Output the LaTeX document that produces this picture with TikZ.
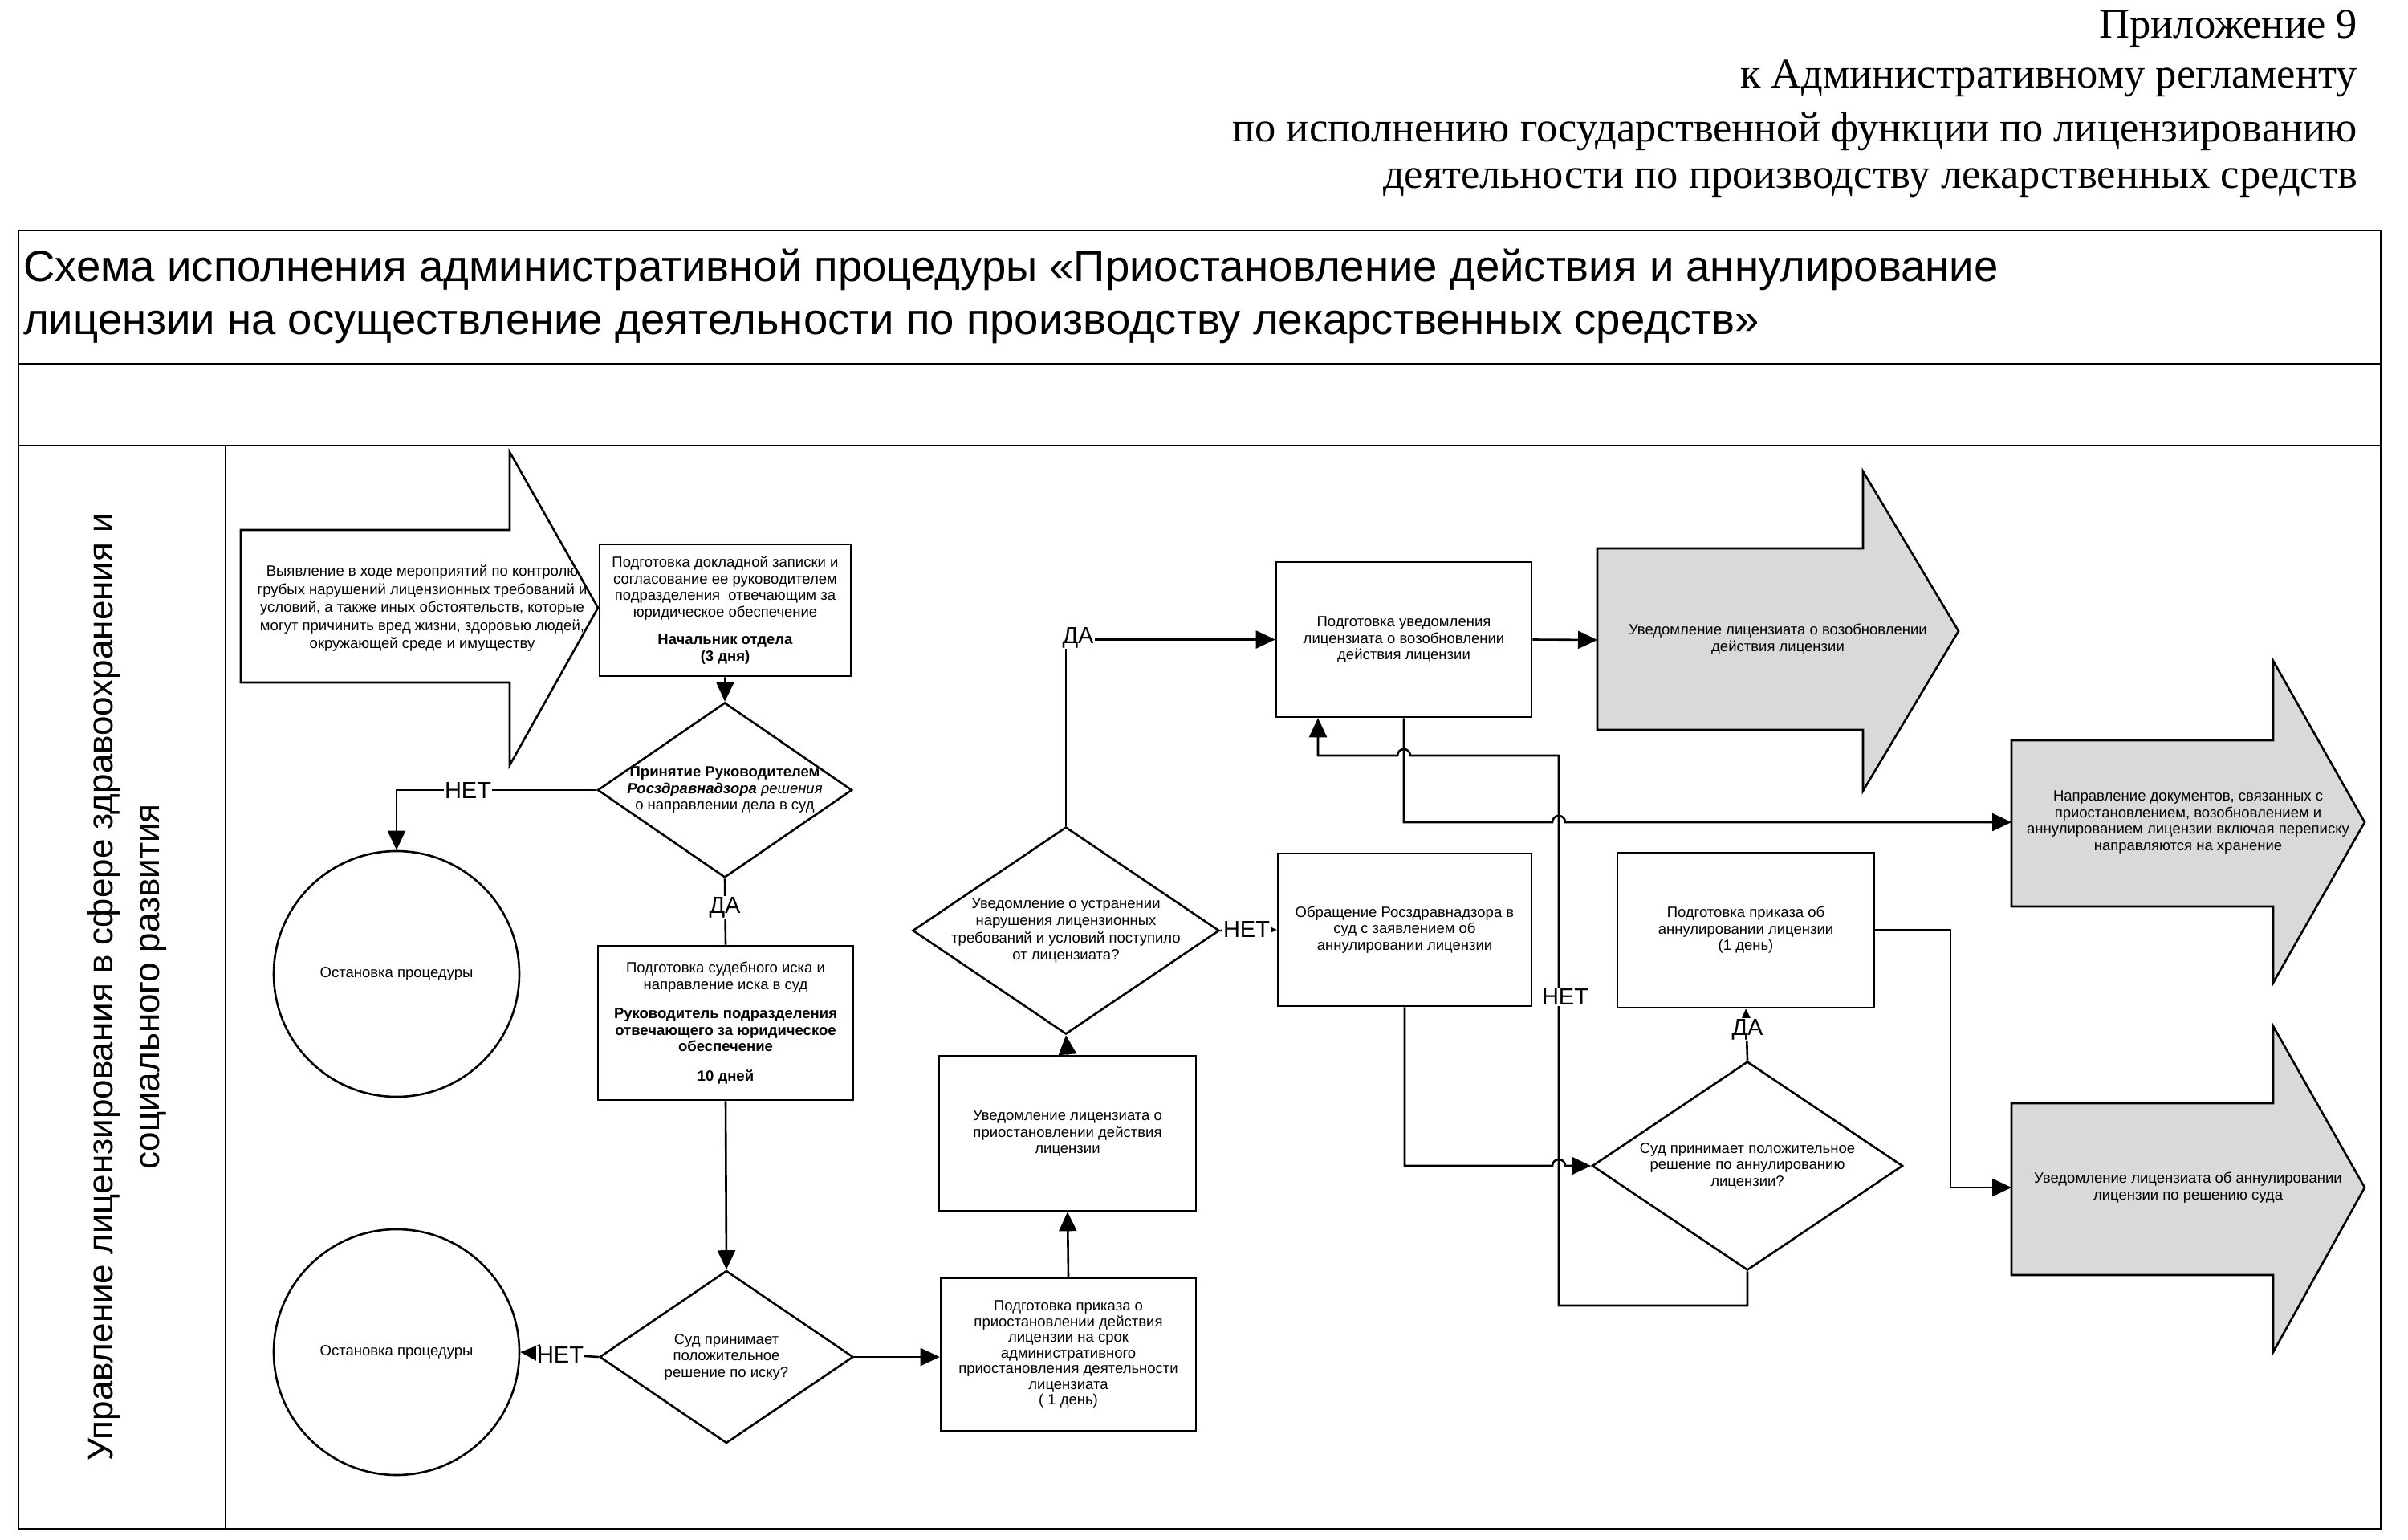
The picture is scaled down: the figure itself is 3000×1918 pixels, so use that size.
\documentclass[tikz,border=0pt]{standalone}
\usepackage{fontspec}
\setmainfont{Liberation Sans}
\newfontfamily\hdrfont{Liberation Serif}
\usetikzlibrary{arrows.meta,calc,shapes.geometric}
\begin{document}
\begin{tikzpicture}[x=1pt,y=-1pt,
  box/.style={draw, line width=2.6pt, rectangle, align=center, inner sep=3pt, font=\fontsize{18.5}{20.5}\selectfont},
  dia/.style={draw, line width=2.6pt, diamond, inner sep=0pt},
  dtext/.style={align=center, font=\fontsize{18.5}{20.5}\selectfont},
  circ/.style={draw, line width=2.6pt, circle, minimum size=306pt, inner sep=0pt, align=center, font=\fontsize{18.5}{20.5}\selectfont},
  conn/.style={line width=2.6pt, -{Triangle[length=24pt,width=22pt]}},
  plain/.style={line width=2.6pt},
  bigarrow/.style={draw, line width=2.6pt, line join=miter},
  shaded/.style={bigarrow, fill=black!15},
  lbl/.style={font=\fontsize{29}{32}\selectfont, fill=white, inner sep=1pt},
  hdr/.style={anchor=east, font=\hdrfont\fontsize{52.5}{58}\selectfont, inner sep=0pt},
  ttl/.style={anchor=west, font=\fontsize{54.5}{60}\selectfont, inner sep=0pt}
]
\useasboundingbox (0,0) rectangle (3000,1918);
\fill[white] (0,0) rectangle (3000,1918);

% header
\node[hdr] (h1) at (2937,36) {Приложение 9};
\node[hdr] (h2) at (2937,98) {к Административному регламенту};
\node[hdr] (h3) at (2937,164) {по исполнению государственной функции по лицензированию};
\node[hdr] (h4) at (2937,228) {деятельности по производству лекарственных средств};

% frame
\draw[line width=2.6pt] (23,287) rectangle (2966,1904);
\draw[line width=2.6pt] (23,453) -- (2966,453);
\draw[line width=2.6pt] (23,555) -- (2966,555);
\draw[line width=2.6pt] (281,555) -- (281,1904);
\node[ttl] (t1) at (29,336) {Схема исполнения административной процедуры «Приостановление действия и аннулирование};
\node[ttl] (t2) at (29,407) {лицензии на осуществление деятельности по производству лекарственных средств»};
\node[rotate=90, align=center, font=\fontsize{44}{58}\selectfont] (lane) at (158,1229)
  {Управление лицензирования в сфере здравоохранения и\\социального развития};

% start arrow
\draw[bigarrow] (300,660) -- (635,660) -- (635,563) -- (745,757) -- (635,953) -- (635,850) -- (300,850) -- cycle;
\node[dtext, font=\fontsize{18.5}{22.5}\selectfont] (a1) at (526,758)
  {Выявление в ходе мероприятий по контролю\\грубых нарушений лицензионных требований и\\условий, а также иных обстоятельств, которые\\могут причинить вред жизни, здоровью людей,\\окружающей среде и имуществу};

% boxes
\node[box, minimum width=313pt, minimum height=164pt] (A) at (903.5,760)
  {Подготовка докладной записки и\\согласование ее руководителем\\подразделения \ отвечающим за\\юридическое обеспечение\\[14pt]\textbf{Начальник отдела}\\\textbf{(3 дня)}};
\node[dia, minimum width=317pt, minimum height=218pt] (d1) at (903,984) {};
\node[dtext] (d1t) at (903,984) {\textbf{Принятие Руководителем}\\\textbf{\textit{Росздравнадзора}} \textit{решения}\\о направлении дела в суд};
\node[box, minimum width=318pt, minimum height=192pt] (B) at (904,1274)
  {Подготовка судебного иска и\\направление иска в суд\\[16pt]\textbf{Руководитель подразделения}\\\textbf{отвечающего за юридическое}\\\textbf{обеспечение}\\[16pt]\textbf{10 дней}};
\node[dia, minimum width=316pt, minimum height=215pt] (d2) at (905,1690) {};
\node[dtext] (d2t) at (905,1690) {Суд принимает\\положительное\\решение по иску?};
\node[circ] (c1) at (494,1213) {Остановка процедуры};
\node[circ] (c2) at (494,1684) {Остановка процедуры};
\node[box, minimum width=318pt, minimum height=190pt, font=\fontsize{18.5}{19.5}\selectfont] (C) at (1331,1687)
  {Подготовка приказа о\\приостановлении действия\\лицензии на срок\\административного\\приостановления деятельности\\лицензиата\\( 1 день)};
\node[box, minimum width=320pt, minimum height=193pt] (D) at (1330,1411.5)
  {Уведомление лицензиата о\\приостановлении действия\\лицензии};
\node[dia, minimum width=382pt, minimum height=258pt] (d3) at (1328,1159) {};
\node[dtext, font=\fontsize{18.5}{21.5}\selectfont] (d3t) at (1328,1159) {Уведомление о устранении\\нарушения лицензионных\\требований и условий поступило\\от лицензиата?};
\node[box, minimum width=318pt, minimum height=193pt] (E) at (1749,796.5)
  {Подготовка уведомления\\лицензиата о возобновлении\\действия лицензии};
\node[box, minimum width=316pt, minimum height=190pt] (F) at (1750,1158)
  {Обращение Росздравнадзора в\\суд с заявлением об\\аннулировании лицензии};
\node[box, minimum width=320pt, minimum height=193pt] (G) at (2175,1158.5)
  {Подготовка приказа об\\аннулировании лицензии\\(1 день)};
\node[dia, minimum width=387pt, minimum height=260pt] (d4) at (2177,1452) {};
\node[dtext] (d4t) at (2177,1452) {Суд принимает положительное\\решение по аннулированию\\лицензии?};

% result arrows
\draw[shaded] (1990,683) -- (2321,683) -- (2321,587) -- (2440,786) -- (2321,985) -- (2321,909) -- (1990,909) -- cycle;
\node[dtext] (a2) at (2215,796) {Уведомление лицензиата о возобновлении\\действия лицензии};
\coordinate (a2in) at (1990,797);
\draw[shaded] (2506,922) -- (2832,922) -- (2832,823) -- (2946,1024) -- (2832,1224) -- (2832,1129) -- (2506,1129) -- cycle;
\node[dtext] (a3) at (2726,1024) {Направление документов, связанных с\\приостановлением, возобновлением и\\аннулированием лицензии включая переписку\\направляются на хранение};
\coordinate (a3in) at (2506,1024);
\draw[shaded] (2506,1374) -- (2832,1374) -- (2832,1278) -- (2946,1479) -- (2832,1684) -- (2832,1588) -- (2506,1588) -- cycle;
\node[dtext] (a4) at (2726,1479) {Уведомление лицензиата об аннулировании\\лицензии по решению суда};
\coordinate (a4in) at (2506,1479);

% connectors
\draw[conn] (A.south) -- (d1.north);
\draw[conn] (d1.west) -| (c1.north);
\node[lbl] (n1) at (583,985) {НЕТ};
\draw[plain] (d1.south) -- (B.north);
\node[lbl] (y1) at (903,1130) {ДА};
\draw[conn] (B.south) -- (d2.north);
\draw[conn] (d2.west) -- (c2.east);
\node[lbl] (n2) at (698,1688) {НЕТ};
\draw[conn] (d2.east) -- (d2.east -| C.west);
\draw[conn] (C.north) -- (D.south);
\draw[conn] (D.north) -- (d3.south);
\draw[conn] (d3.north) |- (E.west);
\node[lbl] (y2) at (1343,794) {ДА};
\draw[conn] (d3.east) -- (F.west);
\node[lbl] (n3) at (1553,1158) {НЕТ};
\draw[conn] (E.east) -- (a2in);

% E bottom -> archive arrow (hop over x=1942)
\coordinate (k1) at (1749,1024);
\draw[conn] (E.south) -- (k1) -- (1934,1024) arc[start angle=180,end angle=360,radius=8] -- (a3in);

% D4 NO path back to E
\coordinate (k2) at (2177,1626);
\coordinate (k3) at (1942,1626);
\coordinate (k4) at (1942,941);
\coordinate (k5) at (1642,941);
\draw[conn] (d4.south) -- (k2) -- (k3) -- (k4) -- (1757,941) arc[start angle=0,end angle=-180,radius=8] -- (k5) -- (k5 |- E.south);
\node[lbl] (n4) at (1950,1242) {НЕТ};

% F -> D4 (hop over x=1942)
\coordinate (k6) at (1750,1452);
\draw[conn] (F.south) -- (k6) -- (1934,1452) arc[start angle=180,end angle=360,radius=8] -- (d4.west);

% D4 YES -> G
\draw[conn] (d4.north) -- (G.south);
\node[lbl] (y3) at (2177,1282) {ДА};

% G -> annul notice arrow
\coordinate (k7) at (2430,1158.5);
\coordinate (k8) at (2430,1479);
\draw[conn] (G.east) -- (k7) -- (k8) -- (a4in);
\end{tikzpicture}
\end{document}
